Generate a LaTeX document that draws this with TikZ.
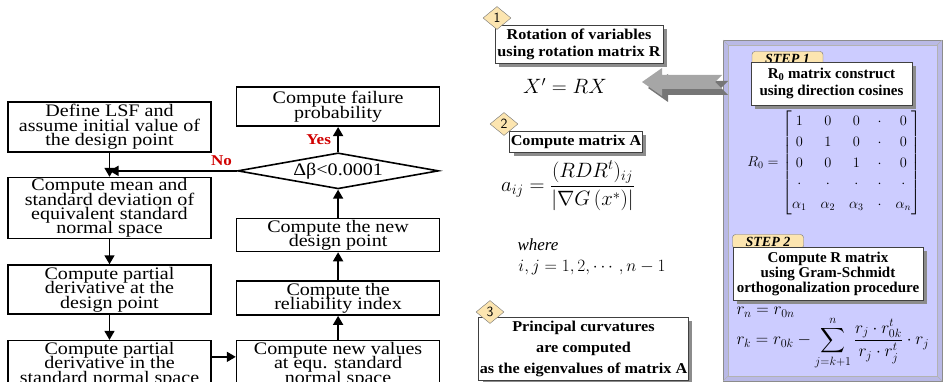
\documentclass[tikz,border=0pt]{standalone}
\usepackage{amsmath}
\usepackage{fontspec}
\setmainfont{Liberation Serif}
\newfontfamily\flowfont{Liberation Serif}[FakeStretch=1.14]
\newfontfamily\boxfont{Liberation Serif}[FakeStretch=1.08]
\usetikzlibrary{shapes.geometric,arrows.meta,positioning,shadows,calc}
\definecolor{tag}{HTML}{FCE5B0}
\definecolor{panel}{HTML}{CCCCFF}
\definecolor{paneledge}{HTML}{B9B9E6}
\definecolor{arrowgray}{HTML}{A6A6A6}
\definecolor{arrowdark}{HTML}{767676}
\definecolor{nored}{HTML}{D00000}
\newcommand{\tightlines}{\setlength{\lineskiplimit}{-30pt}}

\begin{document}
\begin{tikzpicture}[x=1pt,y=-1pt,node distance=24pt and 24pt,
  fb/.style={draw,line width=1.6pt,minimum width=203pt,inner sep=1pt,align=center,
             font=\flowfont\fontsize{17.6}{14.3}\selectfont\tightlines},
  dec/.style={diamond,draw,line width=1.6pt,aspect=5.5,minimum width=201pt,minimum height=36pt,
              inner sep=0pt,font=\flowfont\fontsize{17.6}{14.3}\selectfont},
  ar/.style={-{Triangle[length=9pt,width=10pt]},line width=1.6pt},
  lbl/.style={text=nored,font=\flowfont\bfseries\fontsize{15}{15}\selectfont},
  cb/.style={draw=black!75,line width=0.8pt,fill=white,align=center,inner sep=1pt,
             drop shadow={shadow xshift=4pt,shadow yshift=-4pt,fill=black!45,opacity=1},
             font=\bfseries\fontsize{15}{17}\selectfont\tightlines},
  tagd/.style={diamond,draw=black!55,fill=tag,aspect=1.25,minimum width=28pt,minimum height=23pt,
               inner sep=0pt,font=\sffamily\fontsize{14}{14}\selectfont},
  steptab/.style={draw=black!55,fill=tag,rounded corners=3pt,minimum width=71pt,minimum height=14pt,
                  inner sep=0pt,font=\bfseries\itshape\fontsize{14}{14}\selectfont}]
\useasboundingbox (0,0) rectangle (946,382);

% FORM iteration, left column
\node[fb,minimum height=50pt] (def) at (109.5,127) {Define LSF and\\assume initial value of\\the design point};
\node[fb,minimum height=60pt,below=of def] (mean) {Compute mean and\\standard deviation of\\equivalent standard\\normal space};
\node[fb,minimum height=49pt,below=25pt of mean] (pdx) {Compute partial\\derivative at the\\design point};
\node[fb,minimum height=48pt,below=25pt of pdx] (pdu) {Compute partial\\derivative in the\\standard normal space};
% right column, bottom up
\node[fb,minimum height=48pt,right=of pdu] (newv) {Compute new values\\at equ. standard\\normal space};
\node[fb,minimum height=34pt,above=of newv] (beta) {Compute the\\reliability index};
\node[fb,minimum height=33pt,above=28pt of beta] (newx) {Compute the new\\design point};
\node[dec,above=28pt of newx] (conv) {Δβ<0.0001};
\node[fb,minimum height=39pt,above=25pt of conv] (pf) {Compute failure\\probability};

\draw[ar] (def) -- (mean);
\draw[ar] (mean) -- (pdx);
\draw[ar] (pdx) -- (pdu);
\draw[ar] ([yshift=-17pt]pdu.north east) -- ([yshift=-17pt]newv.north west);
\draw[ar] (newv) -- (beta);
\draw[ar] (beta) -- (newx);
\draw[ar] (newx) -- (conv);
\draw[ar] (conv) -- node[lbl,left=3pt]{Yes} (pf);
\draw[ar] (conv.west) -- node[lbl,pos=0.12,above=1pt]{No} (conv.west -| def.south);

% SORM panel
\draw[black!45,fill=paneledge] (723,40) rectangle (942,381);
\draw[black!30,fill=panel] (728,45) rectangle (937,376);
\draw[black!30] (723,40) -- (728,45) (942,40) -- (937,45) (723,381) -- (728,376) (942,381) -- (937,376);
\foreach \d/\c in {6/arrowdark,0/arrowgray}
  \fill[\c,shift={(\d,\d)}] (642,82) -- (662,68) -- (662,75) -- (722,75) -- (715,82)
    -- (722,89) -- (662,89) -- (662,96) -- cycle;

\node[cb,minimum width=168pt,minimum height=38pt,font=\boxfont\bfseries\fontsize{15}{17}\selectfont\tightlines] (rot)
  at (579,44) {Rotation of variables\\using rotation matrix R};
\node[tagd] (t1) at (497,18) {1};
\node[font=\fontsize{20}{24}\selectfont] (xrx) at (565,86) {$X'=RX$};

\node[cb,minimum width=132pt,minimum height=21pt,font=\boxfont\bfseries\fontsize{15}{17}\selectfont] (cma)
  at (576,141.5) {Compute matrix A};
\node[tagd] (t2) at (504,124) {2};
\node[font=\fontsize{20}{24}\selectfont] (aij) at (568,186)
  {$a_{ij}=\dfrac{(RDR^{t})_{ij}}{\left|\nabla G\left(x^{*}\right)\right|}$};
\node[font=\fontsize{17}{20}\selectfont\itshape] (wh) at (538,245) {where};
\node[font=\fontsize{16}{20}\selectfont] (ij) at (592,268) {$i,j=1,2,\cdots,n-1$};

\node[cb,minimum width=207pt,minimum height=63pt,font=\boxfont\bfseries\fontsize{15}{21}\selectfont\tightlines] (pc)
  at (583.5,349) {Principal curvatures\\are computed\\as the eigenvalues of matrix A};
\node[tagd] (t3) at (490,312) {3};

\node[steptab] (s1) at (787.5,58.5) {STEP 1};
\node[cb,minimum width=161pt,minimum height=43pt] (r0c) at (831.5,83.5) {R\textsubscript{0} matrix construct\\using direction cosines};
\node[font=\fontsize{14}{16}\selectfont] (r0) at (834,163) {\renewcommand{\arraystretch}{1.3}\setlength{\arraycolsep}{7pt}%
  $R_0=\begin{bmatrix}1&0&0&\cdot&0\\0&1&0&\cdot&0\\0&0&1&\cdot&0\\\cdot&\cdot&\cdot&\cdot&\cdot\\
  \alpha_1&\alpha_2&\alpha_3&\cdot&\alpha_n\end{bmatrix}$};

\node[steptab] (s2) at (768,241.5) {STEP 2};
\node[cb,minimum width=190pt,minimum height=53pt,font=\bfseries\fontsize{15}{15}\selectfont\tightlines] (gs)
  at (828,273.5) {Compute R matrix\\using Gram-Schmidt\\orthogonalization procedure};
\node[anchor=west,font=\fontsize{17}{20}\selectfont] (rn) at (733,312) {$r_n=r_{0n}$};
\node[anchor=west,font=\fontsize{17}{20}\selectfont] (rk) at (733,343)
  {$r_k=r_{0k}-\displaystyle\sum_{j=k+1}^{n}\frac{r_j\cdot r_{0k}^{t}}{r_j\cdot r_j^{t}}\cdot r_j$};
\end{tikzpicture}
\end{document}
